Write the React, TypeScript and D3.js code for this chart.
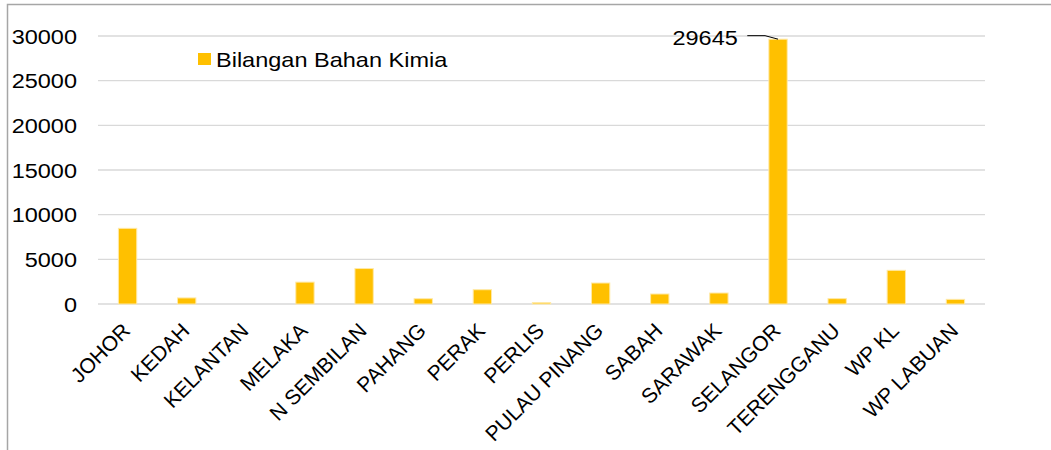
import React from 'react';
import * as d3 from 'd3';

const states = ['JOHOR', 'KEDAH', 'KELANTAN', 'MELAKA', 'N SEMBILAN', 'PAHANG', 'PERAK', 'PERLIS',
  'PULAU PINANG', 'SABAH', 'SARAWAK', 'SELANGOR', 'TERENGGANU', 'WP KL', 'WP LABUAN'];
const chemicals = [8470, 680, 0, 2450, 3970, 590, 1600, 150, 2350, 1120, 1230, 29645, 600, 3770, 520];
const yTicks = [0, 5000, 10000, 15000, 20000, 25000, 30000];
const seriesName = 'Bilangan Bahan Kimia';
const labelled = 'SELANGOR';

// horizontal text in the original runs a bit wider than Liberation Sans
const stretch = 1.12;

const App = () => {
  const width = 1051,
    height = 450,
    margin = { left: 98, right: 66, top: 36, bottom: 146 };
  const font = "'Liberation Sans', Arial, sans-serif";

  const x = d3.scaleBand<string>()
    .domain(states)
    .range([margin.left, width - margin.right])
    .paddingInner(0.69)
    .paddingOuter(0.345);
  const y = d3.scaleLinear()
    .domain([0, 30000])
    .range([height - margin.bottom, margin.top]);

  const step = x.step();
  const center = (s: string) => (x(s) ?? 0) + x.bandwidth() / 2;
  const at = (px: number, py: number) => `translate(${px},${py}) scale(${stretch},1)`;

  const li = states.indexOf(labelled);
  const lc = center(labelled);
  const ly = y(chemicals[li]);

  return (
    <svg width={width} height={height} style={{ position: 'absolute', left: 0, top: 0 }} fontFamily={font}>
      <rect x={7.5} y={4.5} width={width + 20} height={height + 20} fill="white" stroke="#A6A6A6" strokeWidth={1.5} />
      <g>
        {yTicks.map(t => (
          <g key={t}>
            <line x1={margin.left} x2={width - margin.right} y1={y(t)} y2={y(t)} stroke="#D9D9D9" strokeWidth={1.4} />
            <text transform={at(77, y(t))} dy="0.36em" textAnchor="end" fontSize={21} fill="#000">{t}</text>
          </g>
        ))}
      </g>
      <g>
        {states.map((s, i) => (
          <rect key={s}
            x={x(s)}
            y={y(chemicals[i])}
            width={x.bandwidth()}
            height={y(0) - y(chemicals[i])}
            fill="#FFC000"
            stroke="#FFE9A6"
            strokeWidth={chemicals[i] > 0 ? 1 : 0} />
        ))}
      </g>
      <g>
        {states.map(s => {
          const ax = center(s) + 4, ay = y(0) + 28;
          return (
            <text key={s} x={ax} y={ay} textAnchor="end" fontSize={21} fill="#000"
              transform={`rotate(-45, ${ax}, ${ay})`}>{s}</text>
          );
        })}
      </g>
      <g>
        <path d={`M${lc - step * 0.52},${ly - 3.5} L${lc - step * 0.22},${ly - 3.5} L${lc},${ly}`}
          fill="none" stroke="#000" strokeWidth={1} />
        <text transform={at(lc - step * 0.68, ly - 2)} dy="0.36em" textAnchor="end" fontSize={21} fill="#000">{chemicals[li]}</text>
      </g>
      <g>
        <rect x={198} y={53} width={13} height={12} fill="#FFC000" />
        <text transform={at(216, 59)} dy="0.36em" fontSize={21} fill="#000">{seriesName}</text>
      </g>
    </svg>
  );
};

export default App;
